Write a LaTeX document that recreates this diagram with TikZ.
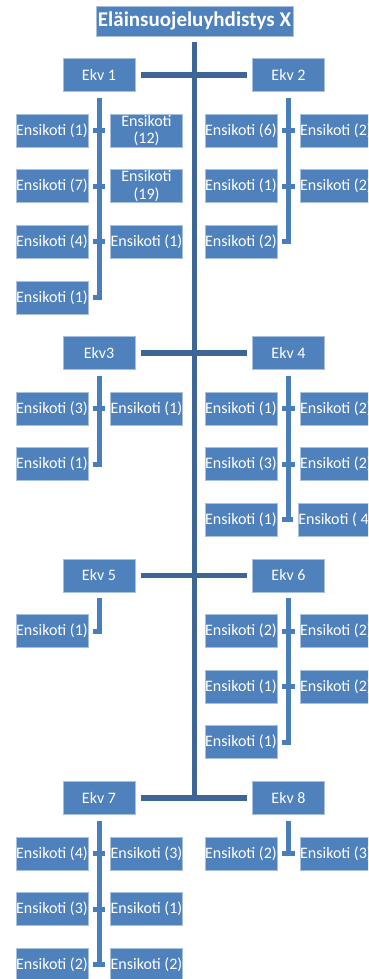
\documentclass[tikz,border=0pt]{standalone}
\usepackage{fontspec}
\setmainfont{Carlito}
\definecolor{boxblue}{HTML}{4F81BD}
\definecolor{trunkblue}{HTML}{3D6596}
\definecolor{linkblue}{HTML}{4A7EBB}
\tikzset{
  box/.style={fill=boxblue, draw=boxblue!50!white, line width=0.7pt,
    minimum width=72pt, minimum height=33pt, inner sep=0pt, text=white,
    font=\fontsize{16}{17.5}\selectfont, align=center},
  titlebox/.style={box, minimum width=197pt, minimum height=30pt,
    font=\fontsize{21}{24}\selectfont\bfseries},
  trunk/.style={draw=trunkblue, line width=5.5pt},
  link/.style={draw=linkblue, line width=5pt, line join=miter},
}
\begin{document}
\begin{tikzpicture}[x=1pt,y=-1pt]
\useasboundingbox (0,0) rectangle (368,979);
\begin{scope}[overlay]
\clip (0,0) rectangle (368,979);
% title and Ekv boxes
\node[titlebox] (title) at (194.5,21) {Eläinsuojeluyhdistys X};
\node[box] (e1) at (99,75) {Ekv 1};
\node[box] (e2) at (288.5,75) {Ekv 2};
\node[box] (e3) at (99,353) {Ekv3};
\node[box] (e4) at (288.5,353) {Ekv 4};
\node[box] (e5) at (99,575.4) {Ekv 5};
\node[box] (e6) at (288.5,575.4) {Ekv 6};
\node[box] (e7) at (99,797.8) {Ekv 7};
\node[box] (e8) at (288.5,797.8) {Ekv 8};
% Ekv 1 children
\node[box] (e1l1) at (52,130.6) {Ensikoti (1)};
\node[box] (e1l2) at (52,186.2) {Ensikoti (7)};
\node[box] (e1l3) at (52,241.8) {Ensikoti (4)};
\node[box] (e1l4) at (52,297.4) {Ensikoti (1)};
\node[box] (e1r1) at (146.5,130.6) {Ensikoti\\(12)};
\node[box] (e1r2) at (146.5,186.2) {Ensikoti\\(19)};
\node[box] (e1r3) at (146.5,241.8) {Ensikoti (1)};
% Ekv 2 children
\node[box] (e2l1) at (241,130.6) {Ensikoti (6)};
\node[box] (e2l2) at (241,186.2) {Ensikoti (1)};
\node[box] (e2l3) at (241,241.8) {Ensikoti (2)};
\node[box] (e2r1) at (336,130.6) {Ensikoti (2)};
\node[box] (e2r2) at (336,186.2) {Ensikoti (2)};
% Ekv 3 children
\node[box] (e3l1) at (52,408.6) {Ensikoti (3)};
\node[box] (e3l2) at (52,464.2) {Ensikoti (1)};
\node[box] (e3r1) at (146.5,408.6) {Ensikoti (1)};
% Ekv 4 children
\node[box] (e4l1) at (241,408.6) {Ensikoti (1)};
\node[box] (e4l2) at (241,464.2) {Ensikoti (3)};
\node[box] (e4l3) at (241,519.8) {Ensikoti (1)};
\node[box] (e4r1) at (336,408.6) {Ensikoti (2)};
\node[box] (e4r2) at (336,464.2) {Ensikoti (2)};
\node[box] (e4r3) at (336,519.8) {Ensikoti ( 4)};
% Ekv 5 children
\node[box] (e5l1) at (52,631) {Ensikoti (1)};
% Ekv 6 children
\node[box] (e6l1) at (241,631) {Ensikoti (2)};
\node[box] (e6l2) at (241,686.6) {Ensikoti (1)};
\node[box] (e6l3) at (241,742.2) {Ensikoti (1)};
\node[box] (e6r1) at (336,631) {Ensikoti (2)};
\node[box] (e6r2) at (336,686.6) {Ensikoti (2)};
% Ekv 7 children
\node[box] (e7l1) at (52,853.4) {Ensikoti (4)};
\node[box] (e7l2) at (52,909) {Ensikoti (3)};
\node[box] (e7l3) at (52,964.6) {Ensikoti (2)};
\node[box] (e7r1) at (146.5,853.4) {Ensikoti (3)};
\node[box] (e7r2) at (146.5,909) {Ensikoti (1)};
\node[box] (e7r3) at (146.5,964.6) {Ensikoti (2)};
% Ekv 8 children
\node[box] (e8l1) at (241,853.4) {Ensikoti (2)};
\node[box] (e8r1) at (336,853.4) {Ensikoti (3)};

% trunk
\draw[trunk] ([yshift=-6pt]title.south) -- (title.south |- e7.center);
\foreach \a/\b in {e1/e2, e3/e4, e5/e6, e7/e8}
  \draw[trunk] ([xshift=6pt]\a.east) -- ([xshift=-5pt]\b.west);

% Ekv 1
\draw[link] ([yshift=-6pt]e1.south) -- (e1.south |- e1l4.center) -- ([xshift=5pt]e1l4.east);
\foreach \r in {1,2,3}
  \draw[link] ([xshift=5pt]e1l\r.east) -- ([xshift=-5pt]e1r\r.west);
% Ekv 2
\draw[link] ([yshift=-6pt]e2.south) -- (e2.south |- e2l3.center) -- ([xshift=5pt]e2l3.east);
\foreach \r in {1,2}
  \draw[link] ([xshift=5pt]e2l\r.east) -- ([xshift=-5pt]e2r\r.west);
% Ekv 3
\draw[link] ([yshift=-6pt]e3.south) -- (e3.south |- e3l2.center) -- ([xshift=5pt]e3l2.east);
\draw[link] ([xshift=5pt]e3l1.east) -- ([xshift=-5pt]e3r1.west);
% Ekv 4
\draw[link] ([yshift=-6pt]e4.south) -- (e4.south |- e4l3.center);
\foreach \r in {1,2,3}
  \draw[link] ([xshift=5pt]e4l\r.east) -- ([xshift=-5pt]e4r\r.west);
% Ekv 5
\draw[link] ([yshift=-6pt]e5.south) -- (e5.south |- e5l1.center) -- ([xshift=5pt]e5l1.east);
% Ekv 6
\draw[link] ([yshift=-6pt]e6.south) -- (e6.south |- e6l3.center) -- ([xshift=5pt]e6l3.east);
\foreach \r in {1,2}
  \draw[link] ([xshift=5pt]e6l\r.east) -- ([xshift=-5pt]e6r\r.west);
% Ekv 7
\draw[link] ([yshift=-6pt]e7.south) -- (e7.south |- e7l3.center);
\foreach \r in {1,2,3}
  \draw[link] ([xshift=5pt]e7l\r.east) -- ([xshift=-5pt]e7r\r.west);
% Ekv 8
\draw[link] ([yshift=-6pt]e8.south) -- (e8.south |- e8l1.center);
\draw[link] ([xshift=5pt]e8l1.east) -- ([xshift=-5pt]e8r1.west);
\end{scope}
\end{tikzpicture}
\end{document}
